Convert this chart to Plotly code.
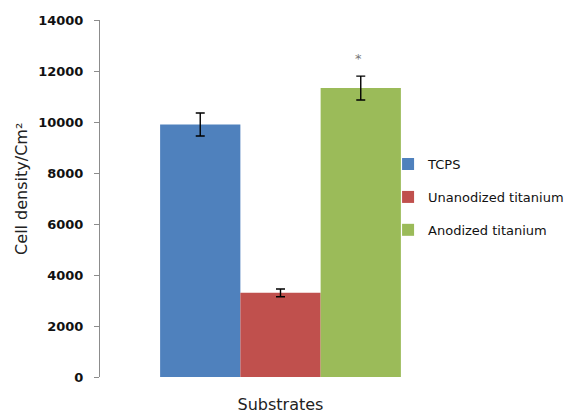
import plotly.graph_objects as go

categories = ["Substrates"]
series_names = ["TCPS", "Unanodized titanium", "Anodized titanium"]
values = [9900, 3300, 11330]
errors = [450, 150, 470]
colors = ["#4F81BD", "#C0504D", "#9BBB59"]
star_value = 12500
y_ticks = [0, 2000, 4000, 6000, 8000, 10000, 12000, 14000]
y_title = "Cell density/Cm²"

fig = go.Figure()
for i, name in enumerate(series_names):
    fig.add_trace(go.Bar(
        x=[categories[0]], y=[values[i]], name=name,
        marker=dict(color=colors[i], line=dict(width=0)),
        error_y=dict(type="data", array=[errors[i]], color="black", thickness=1.4, width=4.5),
        legendgroup=name,
    ))

fig.add_annotation(x=categories[0], y=star_value, text="*", showarrow=False,
                   xshift=78, font=dict(size=13, color="#777", family="DejaVu Sans"),
                   yanchor="middle")

fig.add_annotation(xref="paper", yref="paper", x=-0.216, y=0.527,
                   text=y_title, textangle=-90, showarrow=False,
                   xanchor="center", yanchor="middle",
                   font=dict(size=16, color="#222", family="DejaVu Sans"))

fig.update_layout(
    width=575, height=406,
    margin=dict(l=92, r=122, t=12, b=37),
    paper_bgcolor="white", plot_bgcolor="white",
    barmode="group", bargap=0.333, bargroupgap=0,
    font=dict(family="DejaVu Sans, sans-serif", color="#222"),
    legend=dict(x=0.798, y=0.504, xanchor="left", yanchor="middle",
                font=dict(size=13, color="#111"), tracegroupgap=13, itemwidth=30,
                bgcolor="rgba(0,0,0,0)"),
    xaxis=dict(showticklabels=False, showline=False, ticks="", range=[-0.5, 0.5],
               automargin=False,
               title=dict(text="Substrates", font=dict(size=16, color="#222"), standoff=22)),
    yaxis=dict(range=[0, 14000], tickvals=y_ticks, ticktext=[str(t) for t in y_ticks],
               showline=True, linecolor="#8c8c8c", linewidth=1,
               ticks="outside", ticklen=5, tickcolor="#8c8c8c",
               showgrid=False, zeroline=False, automargin=False,
               ticklabelstandoff=8,
               tickfont=dict(size=13, color="#111", weight="bold")),
)

fig.write_html("out.html")
